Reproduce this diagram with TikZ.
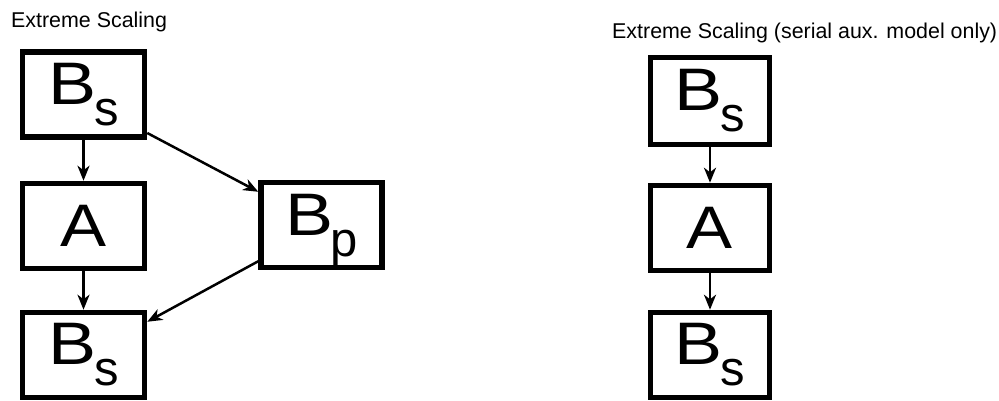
\documentclass[tikz,border=0pt]{standalone}
\usepackage{fontspec}
\setmainfont{Liberation Sans}
\usetikzlibrary{arrows.meta}
\newcommand{\BoxLbl}[2]{\scalebox{1.2}[1]{#1}\kern-2.5pt\raisebox{-21pt}{\fontsize{49}{49}\selectfont #2}}
\begin{document}
\begin{tikzpicture}[x=1pt,y=-1pt,
  blk/.style={draw, line width=5.5pt, minimum width=122pt, minimum height=85pt, inner sep=0pt,
              font=\fontsize{60}{60}\selectfont},
  arr/.style={line width=2.5pt, -{Stealth[length=15pt,width=12pt,inset=4.5pt]}},
  ttl/.style={anchor=base west, inner sep=0pt, font=\fontsize{21.4}{25}\selectfont}]
\useasboundingbox (0,0) rectangle (999,401);

% titles
\node[ttl] (t1) at (11,27.3) {Extreme Scaling};
\node[ttl] (t2) at (612,38.3) {Extreme Scaling (serial aux. model only)};

% left diagram
\node[blk] (bs1) at (83.5,94.75) {\BoxLbl{B}{s}};
\node[blk] (a1)  at (83.5,226)   {\scalebox{1.15}[1]{A}};
\node[blk] (bs3) at (83.5,355)   {\BoxLbl{B}{s}};
\node[blk, minimum width=121pt] (bp) at (321.5,225) {\raisebox{-5pt}[\height][\depth]{\BoxLbl{B}{p}}};

\draw[arr] (bs1) -- (a1);
\draw[arr] (a1) -- (bs3);
\draw[arr] ([yshift=7pt]bs1.south east) -- ([yshift=-12pt]bp.north west);
\draw[arr] ([yshift=9pt]bp.south west) -- ([yshift=-12pt]bs3.north east);

% right diagram
\node[blk, minimum width=119pt, minimum height=87pt] (r1) at (710,101) {\BoxLbl{B}{s}};
\node[blk, minimum width=119pt] (r2) at (710,228) {\scalebox{1.15}[1]{A}};
\node[blk, minimum width=119pt] (r3) at (710,355) {\BoxLbl{B}{s}};

\draw[arr] (r1) -- (r2);
\draw[arr] (r2) -- (r3);
\end{tikzpicture}
\end{document}
